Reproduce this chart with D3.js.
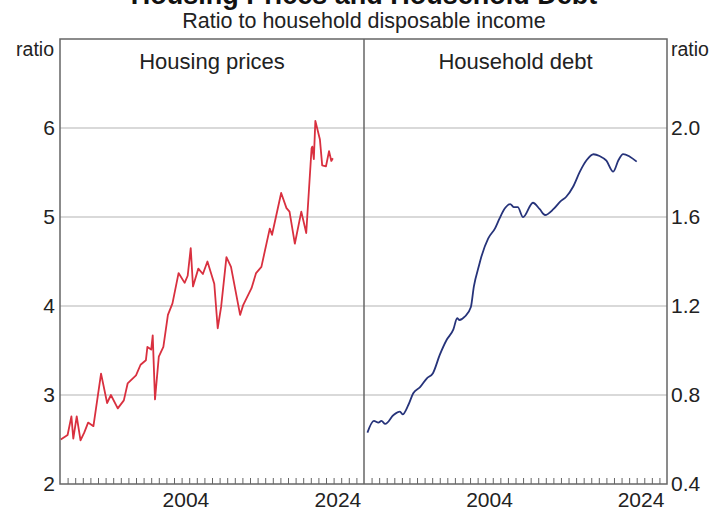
<!DOCTYPE html>
<html><head><meta charset="utf-8">
<script src="https://cdn.jsdelivr.net/npm/d3@7"></script>
<style>
body{margin:0;background:#fff}
svg{display:block;font-family:"Liberation Sans",Arial,Helvetica,sans-serif}
</style></head>
<body><svg id="c" width="728" height="513"></svg>
<script>
// ---- data ----
const titleText = "Housing Prices and Household Debt";
const subtitleText = "Ratio to household disposable income";
const panelTitles = ["Housing prices", "Household debt"];
const leftTicks = [2, 3, 4, 5, 6];
const rightTicks = [0.4, 0.8, 1.2, 1.6, 2.0];
const yearLabels = [2004, 2024];

const housingYears = [1988.1,1989.0,1989.5,1989.75,1990.2,1990.7,1991.2,1991.7,1992.4,1993.4,1994.2,1994.7,1995.6,1996.4,1996.9,1998.0,1998.6,1999.3,1999.5,2000.0,2000.2,2000.5,2001.0,2001.6,2002.2,2002.8,2003.6,2004.4,2004.8,2005.2,2005.5,2006.2,2006.8,2007.4,2008.3,2008.75,2009.2,2009.9,2010.5,2011.7,2012.1,2013.2,2013.8,2014.5,2015.6,2015.9,2017.1,2017.8,2018.2,2018.9,2019.75,2020.4,2021.1,2021.2,2021.4,2021.6,2022.2,2022.5,2023.0,2023.4,2023.7,2023.9];
const housingValues = [2.50,2.55,2.76,2.51,2.76,2.49,2.58,2.69,2.65,3.24,2.91,3.00,2.85,2.94,3.13,3.22,3.34,3.39,3.54,3.51,3.67,2.95,3.43,3.54,3.90,4.03,4.37,4.26,4.34,4.65,4.22,4.42,4.36,4.50,4.25,3.75,3.99,4.55,4.44,3.90,4.01,4.20,4.37,4.44,4.87,4.80,5.27,5.10,5.06,4.70,5.06,4.82,5.77,5.79,5.65,6.08,5.87,5.58,5.57,5.74,5.63,5.66];

const debtYears = [1988.45,1989.3,1989.9,1990.3,1990.8,1991.9,1992.75,1993.1,1993.85,1994.5,1995.4,1996.3,1997.1,1998.0,1998.9,1999.8,2000.3,2000.6,2001.3,2002.1,2002.5,2003.2,2003.5,2004.4,2005.3,2005.9,2006.6,2007.3,2007.8,2008.3,2009.0,2010.3,2011.2,2011.9,2013.0,2013.9,2014.7,2015.6,2016.5,2017.4,2018.3,2019.1,2020.0,2020.9,2021.6,2022.2,2023.1,2024.0];
const debtValues = [0.631,0.684,0.676,0.684,0.670,0.710,0.725,0.713,0.755,0.808,0.835,0.875,0.898,0.980,1.047,1.095,1.145,1.137,1.152,1.194,1.287,1.384,1.422,1.504,1.549,1.594,1.639,1.658,1.644,1.644,1.599,1.664,1.635,1.609,1.635,1.669,1.691,1.736,1.804,1.856,1.882,1.874,1.853,1.804,1.856,1.883,1.871,1.849];

// ---- layout ----
const L = 60, M = 364, R = 667, T = 39, B = 484;
const svg = d3.select("#c");

const xL = d3.scaleLinear().domain([1988, 2028]).range([L, M]);
const xR = d3.scaleLinear().domain([1988, 2028]).range([M, R]);
const yL = d3.scaleLinear().domain([2, 7]).range([B, T]);
const yR = d3.scaleLinear().domain([0.4, 2.4]).range([B, T]);

// title (cut off at top in the reference)
svg.append("text").attr("x", 364).attr("y", 4).attr("text-anchor", "middle")
  .attr("font-size", 27).attr("font-weight", "bold").attr("fill", "#111").text(titleText);
svg.append("text").attr("x", 364).attr("y", 28).attr("text-anchor", "middle")
  .attr("font-size", 21.5).attr("fill", "#222").text(subtitleText);

// gridlines
svg.append("g").selectAll("line").data([3, 4, 5, 6]).join("line")
  .attr("x1", L).attr("x2", R).attr("y1", d => yL(d)).attr("y2", d => yL(d))
  .attr("stroke", "#cccccc").attr("stroke-width", 1.5);

// year ticks
[xL, xR].forEach(x => {
  const g = svg.append("g").attr("transform", `translate(0,${B})`)
    .call(d3.axisBottom(x).tickValues(d3.range(1989, 2028)).tickSize(-6).tickFormat(""));
  g.select(".domain").remove();
  g.selectAll("line").attr("stroke", "#666").attr("stroke-width", 1);
  const g2 = svg.append("g").attr("transform", `translate(0,${B})`)
    .call(d3.axisBottom(x).tickValues(yearLabels.map(d => d + 0.5)).tickSize(0).tickPadding(8).tickFormat(d => Math.floor(d)));
  g2.select(".domain").remove();
  g2.selectAll("text").attr("font-size", 21).attr("fill", "#222").attr("font-family", null);
});

// left axis
const ga = svg.append("g").attr("transform", `translate(${L},0)`)
  .call(d3.axisLeft(yL).tickValues(leftTicks).tickSize(0).tickPadding(5).tickFormat(d3.format("d")));
ga.select(".domain").remove();
ga.selectAll("text").attr("font-size", 21).attr("fill", "#222").attr("font-family", null);
// right axis
const gb = svg.append("g").attr("transform", `translate(${R},0)`)
  .call(d3.axisRight(yR).tickValues(rightTicks).tickSize(0).tickPadding(4).tickFormat(d3.format(".1f")));
gb.select(".domain").remove();
gb.selectAll("text").attr("font-size", 21).attr("fill", "#222").attr("font-family", null);

// unit labels
svg.append("text").attr("x", 54).attr("y", 56).attr("text-anchor", "end")
  .attr("font-size", 19.5).attr("fill", "#222").text("ratio");
svg.append("text").attr("x", 671).attr("y", 56).attr("text-anchor", "start")
  .attr("font-size", 19.5).attr("fill", "#222").text("ratio");

// panel titles
svg.append("text").attr("x", (L + M) / 2).attr("y", 69).attr("text-anchor", "middle")
  .attr("font-size", 22).attr("fill", "#222").text(panelTitles[0]);
svg.append("text").attr("x", (M + R) / 2).attr("y", 69).attr("text-anchor", "middle")
  .attr("font-size", 22).attr("fill", "#222").text(panelTitles[1]);

// lines
const housing = housingYears.map((y, i) => [y, housingValues[i]]);
const debt = debtYears.map((y, i) => [y, debtValues[i]]);
svg.append("path").datum(housing)
  .attr("d", d3.line().x(d => xL(d[0])).y(d => yL(d[1])))
  .attr("fill", "none").attr("stroke", "#d9303f").attr("stroke-width", 1.8).attr("stroke-linejoin", "round");
svg.append("path").datum(debt)
  .attr("d", d3.line().x(d => xR(d[0])).y(d => yR(d[1])).curve(d3.curveMonotoneX))
  .attr("fill", "none").attr("stroke", "#26337a").attr("stroke-width", 1.8).attr("stroke-linejoin", "round");

// frame
svg.append("rect").attr("x", L).attr("y", T).attr("width", R - L).attr("height", B - T)
  .attr("fill", "none").attr("stroke", "#666").attr("stroke-width", 1.5);
svg.append("line").attr("x1", M).attr("x2", M).attr("y1", T).attr("y2", B)
  .attr("stroke", "#666").attr("stroke-width", 1.5);
</script></body></html>
